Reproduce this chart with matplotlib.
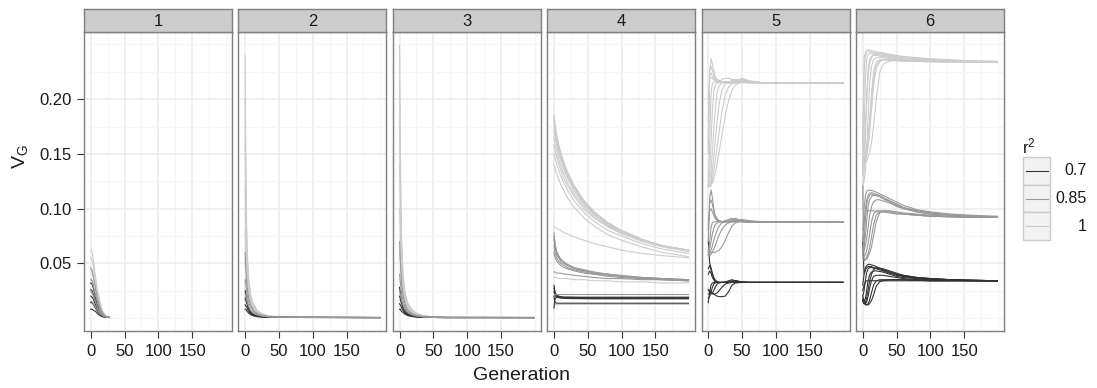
import matplotlib
matplotlib.use("Agg")
import matplotlib.pyplot as plt
from matplotlib.patches import Rectangle
from matplotlib.lines import Line2D

plt.rcParams["font.family"] = ["Liberation Sans", "DejaVu Sans"]

r2_levels = ["0.7", "0.85", "1"]
r2_colors = ["#333333", "#999999", "#CCCCCC"]
facet_labels = ["1", "2", "3", "4", "5", "6"]

# ---- panel 1 ----
gens_p1 = [0, 2, 4, 7, 10, 14, 18, 22, 27]
p1_light = [
    [0.062, 0.060, 0.052, 0.038, 0.026, 0.014, 0.006, 0.002, 0.0005],
    [0.055, 0.053, 0.046, 0.034, 0.023, 0.012, 0.005, 0.002, 0.0005],
    [0.046, 0.044, 0.038, 0.028, 0.019, 0.010, 0.004, 0.0015, 0.0005],
    [0.036, 0.035, 0.030, 0.022, 0.015, 0.008, 0.0035, 0.0012, 0.0005],
]
p1_mid = [
    [0.045, 0.043, 0.037, 0.027, 0.018, 0.009, 0.004, 0.0015, 0.0005],
    [0.035, 0.034, 0.029, 0.021, 0.014, 0.007, 0.003, 0.0012, 0.0005],
    [0.024, 0.023, 0.020, 0.015, 0.010, 0.005, 0.0025, 0.001, 0.0005],
    [0.015, 0.015, 0.013, 0.010, 0.007, 0.004, 0.002, 0.001, 0.0005],
]
p1_dark = [
    [0.032, 0.031, 0.027, 0.019, 0.012, 0.006, 0.003, 0.001, 0.0005],
    [0.026, 0.025, 0.021, 0.016, 0.010, 0.005, 0.0025, 0.001, 0.0005],
    [0.020, 0.019, 0.017, 0.012, 0.008, 0.004, 0.002, 0.0008, 0.0005],
    [0.014, 0.014, 0.012, 0.009, 0.006, 0.003, 0.0015, 0.0008, 0.0005],
    [0.008, 0.008, 0.007, 0.006, 0.004, 0.002, 0.001, 0.0006, 0.0005],
]

# ---- panel 2 ----
gens_p2 = [0, 1, 2, 3, 5, 8, 12, 18, 25, 35, 50, 70, 199]
p2_light = [
    [0.240, 0.150, 0.095, 0.065, 0.038, 0.022, 0.013, 0.007, 0.004, 0.002, 0.001, 0.0006, 0.0004],
    [0.200, 0.125, 0.080, 0.056, 0.034, 0.020, 0.012, 0.0065, 0.0035, 0.0018, 0.0009, 0.0006, 0.0004],
    [0.160, 0.105, 0.070, 0.050, 0.031, 0.018, 0.011, 0.006, 0.0032, 0.0016, 0.0008, 0.0006, 0.0004],
    [0.120, 0.085, 0.060, 0.044, 0.028, 0.017, 0.010, 0.0055, 0.003, 0.0015, 0.0008, 0.0006, 0.0004],
    [0.080, 0.065, 0.050, 0.038, 0.025, 0.015, 0.009, 0.005, 0.0028, 0.0014, 0.0008, 0.0006, 0.0004],
    [0.050, 0.045, 0.038, 0.030, 0.020, 0.012, 0.007, 0.004, 0.0024, 0.0012, 0.0007, 0.0006, 0.0004],
]
p2_mid = [
    [0.060, 0.045, 0.035, 0.028, 0.019, 0.012, 0.007, 0.004, 0.0022, 0.0012, 0.0007, 0.0006, 0.0004],
    [0.035, 0.030, 0.025, 0.021, 0.015, 0.010, 0.006, 0.0035, 0.002, 0.0011, 0.0007, 0.0006, 0.0004],
    [0.022, 0.020, 0.017, 0.015, 0.011, 0.007, 0.0045, 0.0028, 0.0017, 0.001, 0.0007, 0.0006, 0.0004],
]
p2_dark = [
    [0.025, 0.022, 0.018, 0.015, 0.010, 0.006, 0.0035, 0.002, 0.0012, 0.0008, 0.0006, 0.0005, 0.0004],
    [0.018, 0.016, 0.014, 0.012, 0.008, 0.005, 0.003, 0.0018, 0.0011, 0.0007, 0.0006, 0.0005, 0.0004],
    [0.012, 0.011, 0.010, 0.009, 0.006, 0.004, 0.0025, 0.0015, 0.001, 0.0007, 0.0006, 0.0005, 0.0004],
    [0.008, 0.008, 0.007, 0.006, 0.0045, 0.003, 0.002, 0.0012, 0.0008, 0.0006, 0.0005, 0.0005, 0.0004],
]

# ---- panel 3 ----
gens_p3 = [0, 1, 2, 3, 5, 8, 12, 18, 25, 35, 50, 70, 199]
p3_light = [
    [0.249, 0.170, 0.110, 0.075, 0.042, 0.024, 0.014, 0.008, 0.0045, 0.0022, 0.001, 0.0006, 0.0004],
    [0.215, 0.150, 0.098, 0.068, 0.039, 0.022, 0.013, 0.0072, 0.004, 0.002, 0.001, 0.0006, 0.0004],
    [0.180, 0.128, 0.086, 0.060, 0.035, 0.020, 0.012, 0.0065, 0.0036, 0.0018, 0.0009, 0.0006, 0.0004],
    [0.140, 0.105, 0.074, 0.053, 0.032, 0.018, 0.011, 0.006, 0.0033, 0.0016, 0.0008, 0.0006, 0.0004],
    [0.100, 0.080, 0.060, 0.045, 0.028, 0.016, 0.0095, 0.0052, 0.003, 0.0015, 0.0008, 0.0006, 0.0004],
    [0.060, 0.052, 0.043, 0.035, 0.023, 0.014, 0.008, 0.0045, 0.0026, 0.0013, 0.0007, 0.0006, 0.0004],
]
p3_mid = [
    [0.070, 0.055, 0.042, 0.032, 0.021, 0.013, 0.0075, 0.004, 0.0022, 0.0012, 0.0007, 0.0005, 0.0004],
    [0.040, 0.034, 0.028, 0.023, 0.016, 0.010, 0.006, 0.0035, 0.002, 0.0011, 0.0006, 0.0005, 0.0004],
    [0.025, 0.022, 0.019, 0.016, 0.012, 0.008, 0.005, 0.003, 0.0018, 0.001, 0.0006, 0.0005, 0.0004],
]
p3_dark = [
    [0.028, 0.024, 0.020, 0.016, 0.011, 0.007, 0.004, 0.0022, 0.0013, 0.0008, 0.0005, 0.0004, 0.0004],
    [0.020, 0.018, 0.015, 0.013, 0.009, 0.0055, 0.0033, 0.002, 0.0012, 0.0007, 0.0005, 0.0004, 0.0004],
    [0.013, 0.012, 0.011, 0.009, 0.007, 0.0045, 0.0028, 0.0017, 0.001, 0.0006, 0.0005, 0.0004, 0.0004],
    [0.008, 0.008, 0.007, 0.006, 0.005, 0.0035, 0.0022, 0.0014, 0.0009, 0.0006, 0.0005, 0.0004, 0.0004],
]

# ---- panel 4 ----
gens_p4 = [0, 1, 2, 4, 7, 10, 15, 20, 30, 45, 60, 80, 100, 130, 160, 199]
p4_light = [
    [0.186, 0.181, 0.176, 0.168, 0.159, 0.152, 0.142, 0.134, 0.121, 0.107, 0.097, 0.087, 0.080, 0.072, 0.066, 0.062],
    [0.183, 0.178, 0.174, 0.166, 0.157, 0.150, 0.140, 0.132, 0.120, 0.106, 0.096, 0.087, 0.080, 0.072, 0.066, 0.062],
    [0.180, 0.176, 0.172, 0.164, 0.155, 0.148, 0.139, 0.131, 0.119, 0.105, 0.095, 0.086, 0.079, 0.071, 0.066, 0.061],
    [0.176, 0.172, 0.168, 0.161, 0.153, 0.146, 0.137, 0.129, 0.117, 0.104, 0.094, 0.085, 0.079, 0.071, 0.066, 0.061],
    [0.172, 0.168, 0.165, 0.158, 0.150, 0.144, 0.135, 0.128, 0.116, 0.103, 0.094, 0.085, 0.078, 0.071, 0.066, 0.062],
    [0.165, 0.162, 0.158, 0.152, 0.145, 0.139, 0.131, 0.124, 0.113, 0.101, 0.092, 0.084, 0.078, 0.071, 0.066, 0.062],
    [0.158, 0.155, 0.152, 0.147, 0.141, 0.135, 0.127, 0.121, 0.111, 0.099, 0.091, 0.083, 0.077, 0.070, 0.065, 0.061],
    [0.150, 0.148, 0.145, 0.141, 0.135, 0.130, 0.123, 0.117, 0.107, 0.096, 0.088, 0.080, 0.075, 0.068, 0.063, 0.059],
    [0.140, 0.138, 0.136, 0.132, 0.127, 0.122, 0.116, 0.110, 0.101, 0.091, 0.084, 0.076, 0.071, 0.065, 0.060, 0.056],
    [0.084, 0.083, 0.083, 0.082, 0.081, 0.080, 0.078, 0.077, 0.074, 0.071, 0.068, 0.065, 0.062, 0.059, 0.057, 0.055],
    [0.037, 0.037, 0.037, 0.037, 0.036, 0.036, 0.036, 0.036, 0.035, 0.035, 0.034, 0.034, 0.033, 0.033, 0.032, 0.032],
    [0.013, 0.013, 0.013, 0.013, 0.013, 0.013, 0.013, 0.013, 0.013, 0.013, 0.013, 0.013, 0.013, 0.013, 0.013, 0.013],
]
p4_mid = [
    [0.078, 0.072, 0.067, 0.061, 0.057, 0.054, 0.051, 0.049, 0.046, 0.044, 0.042, 0.040, 0.039, 0.037, 0.036, 0.035],
    [0.075, 0.070, 0.065, 0.060, 0.056, 0.053, 0.050, 0.048, 0.046, 0.043, 0.041, 0.040, 0.038, 0.037, 0.036, 0.035],
    [0.072, 0.067, 0.063, 0.058, 0.055, 0.052, 0.050, 0.048, 0.045, 0.043, 0.041, 0.040, 0.038, 0.037, 0.036, 0.035],
    [0.066, 0.062, 0.059, 0.055, 0.052, 0.050, 0.048, 0.046, 0.044, 0.042, 0.040, 0.039, 0.038, 0.036, 0.035, 0.034],
    [0.060, 0.057, 0.055, 0.052, 0.050, 0.048, 0.046, 0.045, 0.043, 0.041, 0.040, 0.038, 0.037, 0.036, 0.035, 0.034],
    [0.042, 0.042, 0.042, 0.041, 0.041, 0.041, 0.040, 0.040, 0.039, 0.038, 0.037, 0.036, 0.036, 0.035, 0.035, 0.034],
    [0.022, 0.022, 0.022, 0.022, 0.022, 0.022, 0.022, 0.022, 0.022, 0.022, 0.022, 0.022, 0.022, 0.022, 0.022, 0.022],
]
p4_dark = [
    [0.030, 0.026, 0.023, 0.021, 0.020, 0.0195, 0.019, 0.019, 0.0188, 0.0186, 0.0185, 0.0185, 0.0185, 0.0185, 0.0185, 0.0185],
    [0.027, 0.024, 0.022, 0.020, 0.0192, 0.0188, 0.0185, 0.0183, 0.0182, 0.018, 0.018, 0.018, 0.018, 0.018, 0.018, 0.018],
    [0.024, 0.022, 0.020, 0.019, 0.0185, 0.0182, 0.018, 0.0178, 0.0177, 0.0176, 0.0175, 0.0175, 0.0175, 0.0175, 0.0175, 0.0175],
    [0.009, 0.015, 0.018, 0.019, 0.0192, 0.019, 0.019, 0.019, 0.019, 0.019, 0.019, 0.019, 0.019, 0.019, 0.019, 0.019],
    [0.020, 0.016, 0.014, 0.0135, 0.0135, 0.0135, 0.0135, 0.0135, 0.0135, 0.0135, 0.0135, 0.0135, 0.0135, 0.0135, 0.0135, 0.0135],
]

# ---- panel 5 ----
gens_p5 = [0, 2, 4, 6, 8, 10, 13, 16, 20, 25, 30, 35, 40, 50, 60, 80, 199]
p5_light = [
    [0.150, 0.225, 0.237, 0.232, 0.226, 0.221, 0.218, 0.217, 0.216, 0.216, 0.216, 0.216, 0.216, 0.217, 0.216, 0.215, 0.215],
    [0.160, 0.228, 0.230, 0.226, 0.222, 0.219, 0.217, 0.216, 0.216, 0.215, 0.215, 0.215, 0.216, 0.218, 0.216, 0.215, 0.215],
    [0.180, 0.222, 0.224, 0.221, 0.219, 0.218, 0.217, 0.216, 0.215, 0.215, 0.216, 0.217, 0.218, 0.217, 0.216, 0.215, 0.215],
    [0.200, 0.218, 0.220, 0.219, 0.218, 0.217, 0.216, 0.216, 0.218, 0.219, 0.219, 0.218, 0.217, 0.216, 0.215, 0.215, 0.215],
    [0.120, 0.160, 0.205, 0.214, 0.216, 0.216, 0.215, 0.215, 0.215, 0.215, 0.215, 0.216, 0.217, 0.219, 0.217, 0.215, 0.215],
    [0.125, 0.135, 0.160, 0.190, 0.207, 0.213, 0.215, 0.216, 0.216, 0.215, 0.215, 0.215, 0.215, 0.216, 0.215, 0.215, 0.215],
    [0.120, 0.124, 0.135, 0.152, 0.172, 0.190, 0.206, 0.212, 0.215, 0.216, 0.216, 0.215, 0.216, 0.218, 0.216, 0.215, 0.215],
    [0.121, 0.121, 0.126, 0.135, 0.147, 0.160, 0.180, 0.196, 0.208, 0.214, 0.215, 0.215, 0.215, 0.215, 0.215, 0.215, 0.215],
    [0.121, 0.120, 0.122, 0.127, 0.134, 0.142, 0.156, 0.170, 0.188, 0.204, 0.211, 0.214, 0.215, 0.217, 0.216, 0.215, 0.215],
    [0.120, 0.120, 0.121, 0.123, 0.127, 0.132, 0.141, 0.152, 0.167, 0.185, 0.199, 0.208, 0.213, 0.216, 0.215, 0.215, 0.215],
]
p5_mid = [
    [0.070, 0.110, 0.117, 0.110, 0.100, 0.094, 0.091, 0.089, 0.088, 0.088, 0.088, 0.088, 0.089, 0.090, 0.089, 0.088, 0.0875],
    [0.080, 0.105, 0.108, 0.104, 0.098, 0.093, 0.090, 0.089, 0.088, 0.088, 0.089, 0.090, 0.091, 0.089, 0.088, 0.0875, 0.0875],
    [0.085, 0.098, 0.100, 0.097, 0.094, 0.091, 0.089, 0.088, 0.088, 0.089, 0.090, 0.091, 0.090, 0.088, 0.0875, 0.0875, 0.0875],
    [0.060, 0.070, 0.083, 0.087, 0.088, 0.088, 0.088, 0.088, 0.088, 0.088, 0.088, 0.088, 0.088, 0.089, 0.088, 0.0875, 0.0875],
    [0.060, 0.063, 0.070, 0.077, 0.082, 0.085, 0.087, 0.088, 0.088, 0.088, 0.088, 0.088, 0.088, 0.088, 0.088, 0.0875, 0.0875],
    [0.058, 0.059, 0.062, 0.066, 0.071, 0.075, 0.080, 0.084, 0.087, 0.088, 0.088, 0.089, 0.089, 0.088, 0.0875, 0.0875, 0.0875],
    [0.057, 0.057, 0.058, 0.060, 0.063, 0.066, 0.071, 0.076, 0.081, 0.085, 0.087, 0.088, 0.088, 0.088, 0.0875, 0.0875, 0.0875],
    [0.061, 0.060, 0.060, 0.060, 0.060, 0.060, 0.061, 0.062, 0.065, 0.071, 0.078, 0.084, 0.087, 0.089, 0.088, 0.0875, 0.0875],
]
p5_dark = [
    [0.070, 0.050, 0.046, 0.041, 0.037, 0.035, 0.033, 0.0325, 0.0325, 0.0325, 0.0325, 0.033, 0.034, 0.033, 0.0325, 0.0325, 0.0325],
    [0.045, 0.048, 0.044, 0.040, 0.036, 0.034, 0.033, 0.0325, 0.0325, 0.0325, 0.033, 0.034, 0.034, 0.033, 0.0325, 0.0325, 0.0325],
    [0.040, 0.043, 0.041, 0.037, 0.035, 0.033, 0.033, 0.0325, 0.0325, 0.033, 0.034, 0.035, 0.034, 0.0325, 0.0325, 0.0325, 0.0325],
    [0.014, 0.024, 0.030, 0.032, 0.0325, 0.0325, 0.0325, 0.0325, 0.0325, 0.0325, 0.0325, 0.0325, 0.0325, 0.033, 0.0325, 0.0325, 0.0325],
    [0.018, 0.020, 0.024, 0.028, 0.031, 0.032, 0.0325, 0.0325, 0.0325, 0.0325, 0.0325, 0.0325, 0.0325, 0.0325, 0.0325, 0.0325, 0.0325],
    [0.022, 0.022, 0.022, 0.023, 0.025, 0.028, 0.031, 0.032, 0.0325, 0.0325, 0.0325, 0.0325, 0.033, 0.0325, 0.0325, 0.0325, 0.0325],
    [0.025, 0.024, 0.023, 0.022, 0.022, 0.022, 0.023, 0.025, 0.028, 0.031, 0.032, 0.0325, 0.0325, 0.0325, 0.0325, 0.0325, 0.0325],
    [0.026, 0.025, 0.024, 0.023, 0.022, 0.021, 0.020, 0.0195, 0.0195, 0.020, 0.024, 0.030, 0.032, 0.0325, 0.0325, 0.0325, 0.0325],
]

# ---- panel 6 ----
gens_p6 = [0, 2, 4, 6, 8, 10, 13, 16, 20, 25, 30, 40, 50, 60, 80, 100, 130, 160, 199]
p6_light = [
    [0.140, 0.225, 0.240, 0.244, 0.245, 0.245, 0.2445, 0.244, 0.2435, 0.243, 0.2425, 0.241, 0.240, 0.239, 0.238, 0.237, 0.236, 0.235, 0.2345],
    [0.160, 0.238, 0.243, 0.244, 0.244, 0.2438, 0.243, 0.2425, 0.242, 0.2415, 0.241, 0.240, 0.239, 0.238, 0.237, 0.236, 0.2355, 0.235, 0.2345],
    [0.130, 0.170, 0.220, 0.237, 0.241, 0.242, 0.242, 0.2415, 0.241, 0.2405, 0.240, 0.239, 0.238, 0.237, 0.236, 0.2355, 0.235, 0.2345, 0.234],
    [0.120, 0.135, 0.165, 0.205, 0.228, 0.236, 0.239, 0.240, 0.240, 0.2395, 0.239, 0.238, 0.237, 0.236, 0.236, 0.235, 0.235, 0.2345, 0.234],
    [0.120, 0.125, 0.135, 0.155, 0.185, 0.212, 0.230, 0.236, 0.238, 0.238, 0.238, 0.237, 0.237, 0.236, 0.236, 0.235, 0.235, 0.2345, 0.234],
    [0.140, 0.142, 0.146, 0.152, 0.162, 0.178, 0.205, 0.225, 0.234, 0.236, 0.236, 0.236, 0.236, 0.235, 0.235, 0.235, 0.2345, 0.234, 0.234],
    [0.100, 0.140, 0.150, 0.158, 0.168, 0.180, 0.200, 0.218, 0.231, 0.235, 0.236, 0.236, 0.2355, 0.235, 0.235, 0.2345, 0.234, 0.234, 0.2335],
    [0.140, 0.141, 0.142, 0.144, 0.147, 0.151, 0.160, 0.175, 0.200, 0.224, 0.232, 0.235, 0.235, 0.235, 0.2345, 0.234, 0.234, 0.234, 0.2335],
    [0.135, 0.150, 0.175, 0.200, 0.220, 0.232, 0.238, 0.241, 0.242, 0.242, 0.2415, 0.240, 0.239, 0.238, 0.237, 0.236, 0.235, 0.2345, 0.234],
    [0.140, 0.141, 0.143, 0.148, 0.156, 0.168, 0.190, 0.212, 0.228, 0.234, 0.236, 0.236, 0.236, 0.235, 0.235, 0.2345, 0.234, 0.234, 0.2335],
]
p6_mid = [
    [0.080, 0.100, 0.112, 0.116, 0.117, 0.117, 0.1165, 0.116, 0.115, 0.1135, 0.112, 0.109, 0.106, 0.103, 0.099, 0.097, 0.095, 0.094, 0.093],
    [0.070, 0.085, 0.100, 0.108, 0.112, 0.114, 0.1145, 0.114, 0.113, 0.112, 0.110, 0.107, 0.104, 0.101, 0.098, 0.096, 0.094, 0.093, 0.0925],
    [0.060, 0.065, 0.075, 0.090, 0.102, 0.108, 0.111, 0.112, 0.112, 0.111, 0.110, 0.107, 0.104, 0.101, 0.098, 0.096, 0.094, 0.093, 0.092],
    [0.060, 0.062, 0.066, 0.073, 0.083, 0.093, 0.102, 0.106, 0.108, 0.108, 0.107, 0.105, 0.102, 0.100, 0.097, 0.095, 0.094, 0.093, 0.092],
    [0.055, 0.056, 0.058, 0.062, 0.068, 0.076, 0.088, 0.095, 0.098, 0.098, 0.098, 0.097, 0.096, 0.095, 0.094, 0.093, 0.0925, 0.092, 0.092],
    [0.053, 0.053, 0.054, 0.056, 0.059, 0.064, 0.074, 0.085, 0.094, 0.097, 0.097, 0.097, 0.096, 0.095, 0.094, 0.093, 0.0925, 0.092, 0.092],
    [0.070, 0.090, 0.097, 0.098, 0.098, 0.098, 0.098, 0.098, 0.097, 0.097, 0.097, 0.096, 0.095, 0.095, 0.094, 0.093, 0.0925, 0.092, 0.092],
    [0.120, 0.052, 0.053, 0.054, 0.056, 0.059, 0.065, 0.075, 0.088, 0.096, 0.098, 0.098, 0.097, 0.096, 0.095, 0.094, 0.093, 0.0925, 0.092],
    [0.058, 0.070, 0.090, 0.104, 0.110, 0.112, 0.113, 0.1125, 0.112, 0.111, 0.109, 0.106, 0.103, 0.100, 0.097, 0.095, 0.094, 0.093, 0.092],
]
p6_dark = [
    [0.030, 0.040, 0.046, 0.048, 0.049, 0.049, 0.0485, 0.048, 0.047, 0.0455, 0.044, 0.042, 0.040, 0.039, 0.037, 0.036, 0.035, 0.0345, 0.034],
    [0.020, 0.025, 0.035, 0.042, 0.045, 0.046, 0.046, 0.0455, 0.045, 0.044, 0.043, 0.041, 0.039, 0.038, 0.036, 0.0355, 0.035, 0.0345, 0.034],
    [0.016, 0.015, 0.018, 0.026, 0.034, 0.039, 0.042, 0.043, 0.043, 0.0425, 0.042, 0.040, 0.038, 0.037, 0.036, 0.035, 0.0345, 0.034, 0.034],
    [0.015, 0.013, 0.013, 0.015, 0.020, 0.027, 0.034, 0.038, 0.039, 0.039, 0.039, 0.038, 0.037, 0.036, 0.035, 0.035, 0.0345, 0.034, 0.034],
    [0.018, 0.014, 0.012, 0.012, 0.013, 0.016, 0.023, 0.030, 0.034, 0.035, 0.035, 0.035, 0.035, 0.035, 0.0345, 0.034, 0.034, 0.034, 0.0335],
    [0.020, 0.016, 0.013, 0.012, 0.012, 0.013, 0.016, 0.021, 0.029, 0.033, 0.034, 0.035, 0.035, 0.035, 0.0345, 0.034, 0.034, 0.034, 0.0335],
    [0.025, 0.030, 0.033, 0.034, 0.034, 0.034, 0.034, 0.034, 0.034, 0.034, 0.034, 0.034, 0.034, 0.034, 0.034, 0.034, 0.034, 0.034, 0.034],
    [0.070, 0.040, 0.044, 0.046, 0.047, 0.047, 0.047, 0.046, 0.0455, 0.045, 0.044, 0.042, 0.040, 0.038, 0.037, 0.036, 0.035, 0.0345, 0.034],
    [0.017, 0.013, 0.014, 0.019, 0.026, 0.033, 0.040, 0.044, 0.046, 0.0455, 0.045, 0.043, 0.041, 0.039, 0.037, 0.036, 0.035, 0.0345, 0.034],
]

# drawing order per panel: light, dark, then medium on top
panels = [
    (gens_p1, [p1_light, p1_dark, p1_mid]),
    (gens_p2, [p2_light, p2_dark, p2_mid]),
    (gens_p3, [p3_light, p3_dark, p3_mid]),
    (gens_p4, [p4_light, p4_dark, p4_mid]),
    (gens_p5, [p5_light, p5_dark, p5_mid]),
    (gens_p6, [p6_light, p6_dark, p6_mid]),
]
group_colors = [r2_colors[2], r2_colors[0], r2_colors[1]]

W, H = 1097, 388
fig = plt.figure(figsize=(W / 100, H / 100), dpi=100)
fig.patch.set_facecolor("white")

panel_left = [84, 238.4, 392.8, 547.2, 701.6, 856]
panel_w = 148
panel_top, panel_bot = 32, 331
strip_top = 9
txt_col = "#1A1A1A"

for i, (gens, groups) in enumerate(panels):
    ax = fig.add_axes([panel_left[i] / W, 1 - panel_bot / H, panel_w / W, (panel_bot - panel_top) / H])
    ax.set_facecolor("white")
    for curves, col in zip(groups, group_colors):
        for c in curves:
            ax.plot(gens, c, color=col, lw=0.8, zorder=3)
    ax.set_xlim(-9.95, 208.95)
    ax.set_ylim(-0.0119, 0.2614)
    ax.set_xticks([0, 50, 100, 150])
    ax.set_xticks([25, 75, 125, 175, 200], minor=True)
    ax.set_yticks([0.05, 0.10, 0.15, 0.20])
    ax.set_yticks([0, 0.025, 0.075, 0.125, 0.175, 0.225, 0.25], minor=True)
    ax.grid(True, which="major", color="#EBEBEB", lw=1.1, zorder=0)
    ax.grid(True, which="minor", color="#F6F6F6", lw=0.8, zorder=0)
    ax.set_axisbelow(True)
    for s in ax.spines.values():
        s.set_color("#7F7F7F")
        s.set_linewidth(1.0)
    ax.tick_params(which="major", length=5, color="#333333", labelsize=12, labelcolor=txt_col, pad=4)
    ax.tick_params(which="minor", length=0)
    ax.set_xticklabels(["0", "50", "100", "150"])
    if i == 0:
        ax.set_yticklabels(["0.05", "0.10", "0.15", "0.20"])
    else:
        ax.tick_params(axis="y", which="both", left=False, labelleft=False)

    # facet strip
    sax = fig.add_axes([panel_left[i] / W, 1 - panel_top / H, panel_w / W, (panel_top - strip_top) / H])
    sax.set_facecolor("#CCCCCC")
    sax.set_xticks([])
    sax.set_yticks([])
    for s in sax.spines.values():
        s.set_color("#7F7F7F")
        s.set_linewidth(1.0)
    sax.text(0.5, 0.45, facet_labels[i], ha="center", va="center", fontsize=12, color=txt_col,
             transform=sax.transAxes)

fig.text(522 / W, 1 - 375 / H, "Generation", ha="center", va="center", fontsize=14, color=txt_col)
fig.text(20 / W, 1 - 157 / H, r"$\mathregular{V_G}$", ha="center", va="center", fontsize=14,
         rotation=90, color=txt_col)

# legend
fig.text(1022 / W, 1 - 146 / H, r"$\mathregular{r^2}$", ha="left", va="center", fontsize=12, color=txt_col)
key_top = 157
key_h = 27.7
for j, (lab, col) in enumerate(zip(r2_levels, r2_colors)):
    y0 = key_top + j * key_h
    fig.patches.append(Rectangle((1023 / W, 1 - (y0 + key_h) / H), 27 / W, key_h / H,
                                 transform=fig.transFigure, facecolor="#F2F2F2",
                                 edgecolor="#CCCCCC", lw=1.0))
    yc = 1 - (y0 + key_h / 2) / H
    fig.lines.append(Line2D([1026 / W, 1048 / W], [yc, yc], transform=fig.transFigure, color=col, lw=0.8))
    fig.text(1087 / W, yc, lab, ha="right", va="center", fontsize=11.5, color=txt_col)

fig.savefig("out.png", dpi=100)
